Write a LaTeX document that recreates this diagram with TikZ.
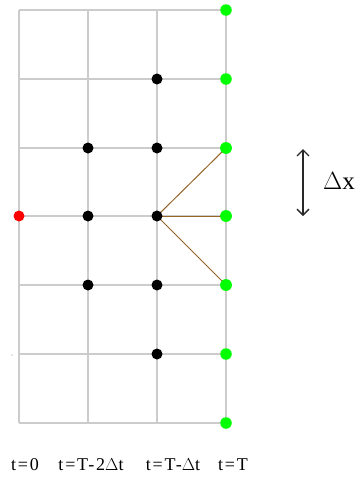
\documentclass[tikz,border=0pt]{standalone}
\usepackage{fontspec}
\setmainfont{Liberation Serif}
\usetikzlibrary{arrows.meta}
\definecolor{gridgray}{RGB}{204,204,204}
\definecolor{dotgreen}{RGB}{0,255,0}
\definecolor{linkbrown}{RGB}{150,100,40}
\definecolor{arrowgray}{RGB}{40,40,40}
\tikzset{
  gridline/.style={draw=gridgray, line width=1.4pt},
  dotblack/.style={circle, fill=black, inner sep=0pt, minimum size=11pt},
  dotgrn/.style={circle, fill=dotgreen, inner sep=0pt, minimum size=11.5pt},
  dotred/.style={circle, fill=red, inner sep=0pt, minimum size=11pt},
  link/.style={draw=linkbrown, line width=1pt},
  lbl/.style={font=\fontsize{18}{18}\selectfont\addfontfeature{LetterSpace=10}, inner sep=0pt},
  dxlbl/.style={font=\fontsize{25}{25}\selectfont, inner sep=0pt},
}
\begin{document}
\begin{tikzpicture}[x=1pt,y=-1pt]
\useasboundingbox (0,0) rectangle (356,477);
% grid
\foreach \x in {19,88,157,226} \draw[gridline] (\x,10) -- (\x,423);
\foreach \y in {10,79,148,216,285,354,423} \draw[gridline] (19,\y) -- (226,\y);
% green dots
\coordinate (c) at (157,216);
\node[dotgrn] (g1) at (226,10) {};
\node[dotgrn] (g2) at (226,79) {};
\node[dotgrn] (g3) at (226,148) {};
\node[dotgrn] (g4) at (226,216) {};
\node[dotgrn] (g5) at (226,285) {};
\node[dotgrn] (g6) at (226,354) {};
\node[dotgrn] (g7) at (226,423) {};
% links
\draw[link] (c) -- (g3.center);
\draw[link] (c) -- (g4.center);
\draw[link] (c) -- (g5.center);
\node[dotgrn] at (g3) {};
\node[dotgrn] at (g4) {};
\node[dotgrn] at (g5) {};
% black dots
\node[dotblack] (b1) at (157,79) {};
\node[dotblack] (b2) at (88,148) {};
\node[dotblack] (b3) at (157,148) {};
\node[dotblack] (b4) at (88,216) {};
\node[dotblack] (b5) at (157,216) {};
\node[dotblack] (b6) at (88,285) {};
\node[dotblack] (b7) at (157,285) {};
\node[dotblack] (b8) at (157,354) {};
\node[dotred] (r1) at (19,216) {};
% stray dot
\fill[gridgray] (12,355) circle (0.8);
% delta x arrow
\coordinate (a1) at (303,149);
\coordinate (a2) at (303,216);
\draw[arrowgray, line width=1.3pt, {Straight Barb[length=6pt,width=12pt]}-{Straight Barb[length=6pt,width=12pt]}] (a1) -- (a2);
\node[dxlbl, anchor=west] (dx) at (323,181) {$\Delta$x};
% bottom labels
\node[lbl] (t0) at (25,465) {t=0};
\node[lbl] (t1) at (91,465) {t=T-2$\Delta$t};
\node[lbl] (t2) at (173,465) {t=T-$\Delta$t};
\node[lbl] (t3) at (233,465) {t=T};
\end{tikzpicture}
\end{document}
